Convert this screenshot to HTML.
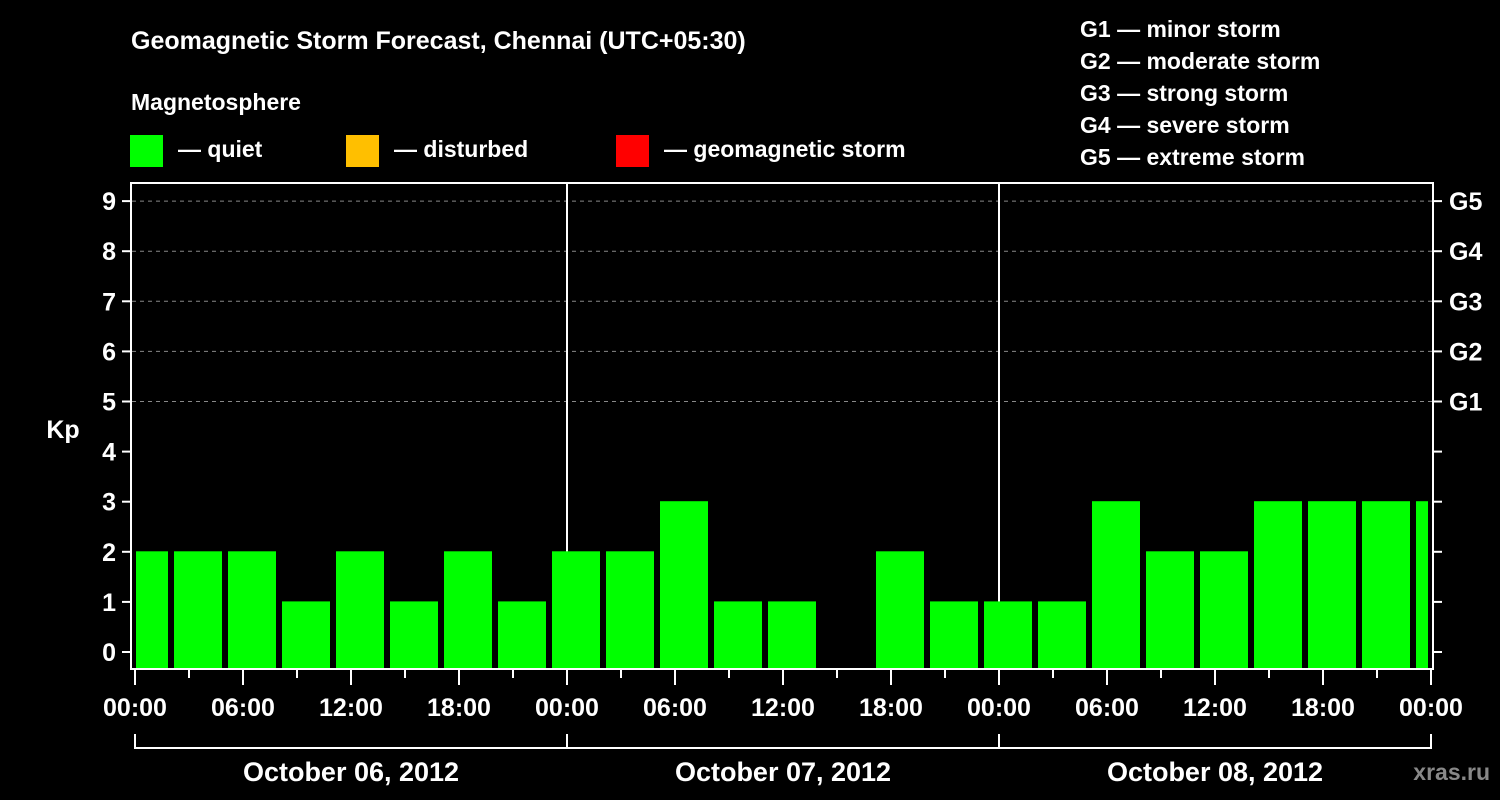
<!DOCTYPE html>
<html><head><meta charset="utf-8"><style>
html,body{margin:0;padding:0;background:#000;}
svg{display:block;font-family:"Liberation Sans",Arial,sans-serif;font-weight:bold;}
</style></head><body>
<svg id="chart" width="1500" height="800" viewBox="0 0 1500 800">
<rect width="1500" height="800" fill="#000"/>
<text x="131" y="49" fill="#fff" font-size="25">Geomagnetic Storm Forecast, Chennai (UTC+05:30)</text>
<text x="131" y="110" fill="#fff" font-size="23">Magnetosphere</text>
<g><rect x="130" y="135" width="33" height="32" fill="#00ff00"/><text x="178" y="157" fill="#fff" font-size="23">— quiet</text></g>
<g><rect x="346" y="135" width="33" height="32" fill="#ffbf00"/><text x="394" y="157" fill="#fff" font-size="23">— disturbed</text></g>
<g><rect x="616" y="135" width="33" height="32" fill="#ff0000"/><text x="664" y="157" fill="#fff" font-size="23">— geomagnetic storm</text></g>
<g fill="#fff" font-size="23">
<text x="1080" y="37">G1 — minor storm</text>
<text x="1080" y="69">G2 — moderate storm</text>
<text x="1080" y="101">G3 — strong storm</text>
<text x="1080" y="133">G4 — severe storm</text>
<text x="1080" y="165">G5 — extreme storm</text>
</g>
<text x="63" y="438" fill="#fff" font-size="25" text-anchor="middle">Kp</text>
<text x="1490" y="780" fill="#888" font-size="23" text-anchor="end">xras.ru</text>
<g id="marks"></g>
<rect x="131" y="183" width="1302" height="486" fill="none" stroke="#fff" stroke-width="2"/>
</svg>
<script>
const kpValues = [2,2,2,1,2,1,2,1,2,2,3,1,1,0,2,1,1,1,3,2,2,3,3,3,3];
const yTicks = [0,1,2,3,4,5,6,7,8,9];
const gLabels = ["G1","G2","G3","G4","G5"];
const timeLabels = ["00:00","06:00","12:00","18:00","00:00","06:00","12:00","18:00","00:00","06:00","12:00","18:00","00:00"];
const dateLabels = ["October 06, 2012","October 07, 2012","October 08, 2012"];

const NS="http://www.w3.org/2000/svg";
const g=document.getElementById('marks');
const y=k=>652-50.1*k;
const xh=h=>135+18*h; // hours from start
const plotL=136, plotR=1432, plotB=668;
function el(t,a){const e=document.createElementNS(NS,t);for(const k in a)e.setAttribute(k,a[k]);g.appendChild(e);return e;}
// grid
yTicks.forEach(k=>{
  if(k>=5){const l=el('line',{x1:132,x2:1432,y1:y(k),y2:y(k),stroke:'#888','stroke-dasharray':'4,4','stroke-width':1});
  
  }
  const t=el('line',{x1:122,x2:131,y1:y(k),y2:y(k),stroke:'#fff','stroke-width':2});
  
  
  const t2=el('line',{x1:1433,x2:1442,y1:y(k),y2:y(k),stroke:'#fff','stroke-width':2});
  
  
  const tx=el('text',{x:116,y:y(k)+9,fill:'#fff','font-size':25,'text-anchor':'end'});
  tx.textContent=k;
  
  
});
gLabels.forEach((s,i)=>{
  const tx=el('text',{x:1449,y:y(5+i)+9,fill:'#fff','font-size':25});
  tx.textContent=s;
  
  
});
// day separators
[24,48].forEach(h=>{
  const l=el('line',{x1:xh(h),x2:xh(h),y1:183,y2:668,stroke:'#fff','stroke-width':2});
  
  
});
// bars: 3h bins starting at -0.833h offset
kpValues.forEach((k,i)=>{
  if(k<=0)return;
  let x0=xh(-5/6+3*i), x1=x0+48;
  x0=Math.max(x0,plotL); x1=Math.min(x1,plotR-4);
  const r=el('rect',{x:x0,y:y(k)-0.5,width:x1-x0,height:plotB-y(k)+0.5,fill:'#00ff00'});
  
  
});
// time ticks
for(let j=0;j<=24;j++){
  const h=3*j, long=(h%6===0);
  const l=el('line',{x1:xh(h),x2:xh(h),y1:670,y2:long?685:678,stroke:'#fff','stroke-width':2});
  
  
}
timeLabels.forEach((s,i)=>{
  const tx=el('text',{x:xh(6*i),y:716,fill:'#fff','font-size':25,'text-anchor':'middle'});
  tx.textContent=s;
  
  
});
// date bracket
const bl=el('line',{x1:xh(0),x2:xh(72),y1:748,y2:748,stroke:'#fff','stroke-width':2});


[0,24,48,72].forEach(h=>{
  const l=el('line',{x1:xh(h),x2:xh(h),y1:734,y2:749,stroke:'#fff','stroke-width':2});
  
  
});
dateLabels.forEach((s,i)=>{
  const tx=el('text',{x:xh(24*i+12),y:781,fill:'#fff','font-size':27,'text-anchor':'middle'});
  tx.textContent=s;
  
  
});
</script>
</body></html>
